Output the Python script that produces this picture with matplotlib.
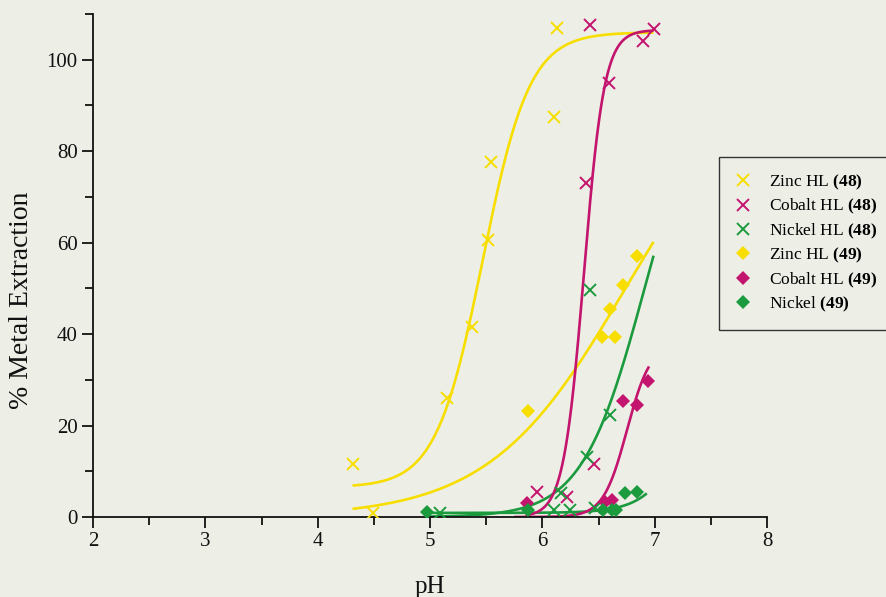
import numpy as np
import matplotlib
matplotlib.use("Agg")
import matplotlib.pyplot as plt

plt.rcParams["font.family"] = ["Liberation Serif", "DejaVu Serif"]
plt.rcParams["mathtext.fontset"] = "custom"
plt.rcParams["mathtext.rm"] = "Liberation Serif"
plt.rcParams["mathtext.bf"] = "Liberation Serif:bold"

# Measured extraction data (pH, % metal extracted)
zinc48_ph = [4.31, 4.49, 5.15, 5.37, 5.52, 5.54, 6.10, 6.13]
zinc48_ext = [11.6, 0.9, 26.0, 41.6, 60.6, 77.7, 87.5, 107.0]

cobalt48_ph = [5.95, 6.22, 6.39, 6.42, 6.46, 6.59, 6.90, 6.99]
cobalt48_ext = [5.5, 4.4, 73.0, 107.7, 11.6, 95.0, 104.0, 106.8]

nickel48_ph = [5.09, 6.10, 6.17, 6.25, 6.40, 6.42, 6.47, 6.60]
nickel48_ext = [0.9, 1.5, 5.3, 1.5, 13.1, 49.7, 2.0, 22.3]

zinc49_ph = [5.87, 6.53, 6.60, 6.65, 6.72, 6.84]
zinc49_ext = [23.2, 39.4, 45.5, 39.4, 50.8, 57.0]

cobalt49_ph = [5.86, 6.56, 6.62, 6.72, 6.84, 6.94]
cobalt49_ext = [3.0, 3.3, 3.7, 25.4, 24.5, 29.8]

nickel49_ph = [4.97, 5.87, 6.54, 6.62, 6.66, 6.74, 6.84]
nickel49_ext = [1.1, 1.5, 1.5, 1.5, 1.5, 5.2, 5.5]

# Sigmoidal fits: (lower, upper, pH50, slope, pH start, pH end)
zinc48_fit = (6.5, 106.0, 5.47, 4.8, 4.31, 6.99)
cobalt48_fit = (0.0, 106.5, 6.37, 11.0, 5.85, 6.99)
nickel48_fit = (0.0, 100.0, 6.91, 3.6, 5.00, 6.99)
zinc49_fit = (0.0, 100.0, 6.74, 1.65, 4.31, 6.99)
cobalt49_fit = (0.0, 38.0, 6.753, 9.5, 5.75, 6.95)
nickel49_fit = (0.9, 100.0, 7.55, 5.0, 4.97, 6.93)

labels = [r"Zinc HL $\mathbf{(48)}$", r"Cobalt HL $\mathbf{(48)}$",
          r"Nickel HL $\mathbf{(48)}$", r"Zinc HL $\mathbf{(49)}$",
          r"Cobalt HL $\mathbf{(49)}$", r"Nickel $\mathbf{(49)}$"]

YELLOW = "#F7DE00"
MAGENTA = "#C3146E"
GREEN = "#1B9A3E"
BG = "#EDEFE7"


def sigmoid(fit):
    lo, hi, x0, k, a, b = fit
    x = np.linspace(a, b, 300)
    return x, lo + (hi - lo) / (1.0 + np.exp(-k * (x - x0)))


fig = plt.figure(figsize=(8.86, 5.97), dpi=100, facecolor=BG)
ax = fig.add_axes([0.105, 0.134, 0.7607, 0.8425], facecolor=BG)

for fit, col in [(zinc48_fit, YELLOW), (zinc49_fit, YELLOW),
                 (nickel48_fit, GREEN), (nickel49_fit, GREEN),
                 (cobalt48_fit, MAGENTA), (cobalt49_fit, MAGENTA)]:
    x, y = sigmoid(fit)
    ax.plot(x, y, color=col, lw=1.9, zorder=2, solid_capstyle="butt")

series = [
    (zinc48_ph, zinc48_ext, "x", YELLOW),
    (cobalt48_ph, cobalt48_ext, "x", MAGENTA),
    (nickel48_ph, nickel48_ext, "x", GREEN),
    (zinc49_ph, zinc49_ext, "D", YELLOW),
    (cobalt49_ph, cobalt49_ext, "D", MAGENTA),
    (nickel49_ph, nickel49_ext, "D", GREEN),
]
handles = []
for (xs, ys, m, col), lab in zip(series, labels):
    if m == "x":
        h, = ax.plot(xs, ys, ls="none", marker="x", ms=8.5, mew=1.4,
                     color=col, label=lab, zorder=3)
    else:
        h, = ax.plot(xs, ys, ls="none", marker="D", ms=7, mew=0,
                     color=col, label=lab, zorder=3)
    handles.append(h)

ax.set_xlim(2, 8)
ax.set_ylim(0, 110)
ax.set_xticks(np.arange(2, 9, 1))
ax.set_xticks(np.arange(2.5, 8, 1), minor=True)
ax.set_yticks(np.arange(0, 101, 20))
ax.set_yticks(np.arange(10, 111, 20), minor=True)

for s in ["top", "right"]:
    ax.spines[s].set_visible(False)
for s in ["left", "bottom"]:
    ax.spines[s].set_linewidth(1.3)
    ax.spines[s].set_color("#111111")

ax.tick_params(axis="both", which="major", direction="out", length=8,
               width=1.3, labelsize=15, colors="#111111", pad=3)
ax.tick_params(axis="both", which="minor", direction="out", length=6,
               width=1.3, colors="#111111")

# Axis titles
fig.text(430 / 886, 1 - 593 / 597, "pH", fontsize=18, ha="center",
         va="baseline", color="#111111")
fig.text(22 / 886, 1 - 300 / 597, "% Metal Extraction", fontsize=20,
         rotation=90, ha="center", va="center", color="#111111")

leg = fig.legend(handles=handles, loc="upper left",
                 bbox_to_anchor=(0.811, 0.737), fontsize=12.5,
                 frameon=True, fancybox=False, edgecolor="#333333",
                 facecolor=BG, framealpha=1, labelspacing=0.3,
                 handlelength=1.0, handletextpad=1.0, borderpad=0.9,
                 borderaxespad=0)
leg.get_frame().set_linewidth(1.0)

fig.savefig("out.png", dpi=100, facecolor=BG)
